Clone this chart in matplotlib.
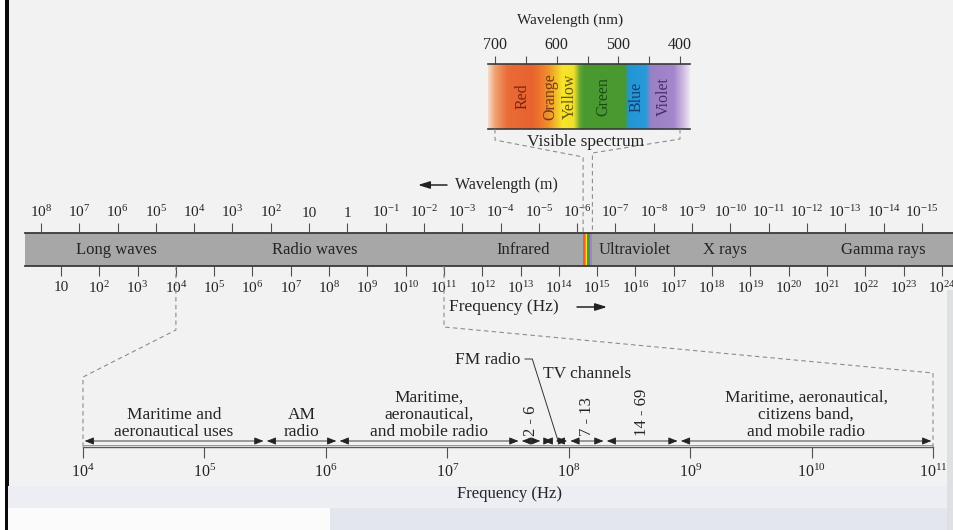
import numpy as np
import matplotlib
matplotlib.use("Agg")
import matplotlib.pyplot as plt
from matplotlib.lines import Line2D
from matplotlib.patches import Rectangle
from matplotlib.ticker import NullLocator
from matplotlib.transforms import IdentityTransform
from matplotlib.colors import to_rgb

plt.rcParams['font.family'] = ['Liberation Serif', 'DejaVu Serif']
plt.rcParams['mathtext.fontset'] = 'custom'
plt.rcParams['mathtext.rm'] = 'Liberation Serif'
plt.rcParams['mathtext.it'] = 'Liberation Serif:italic'
plt.rcParams['mathtext.bf'] = 'Liberation Serif:bold'

W, H, DPI = 954, 530, 100
C_LIGHT = 3.0e8

# ---------------- data ----------------
main_freq_exponents = list(range(1, 25))          # 10^1 .. 10^24 Hz
main_wl_exponents = list(range(8, -16, -1))       # 10^8 .. 10^-15 m
region_names = ["Long waves", "Radio waves", "Infrared", "Ultraviolet", "X rays", "Gamma rays"]
region_log_freq = [2.46, 7.63, 13.06, 15.99, 18.34, 22.46]

visible_ticks_nm = [700, 650, 600, 550, 500, 450, 400]
visible_labels_nm = [700, 600, 500, 400]
color_names = ["Red", "Orange", "Yellow", "Green", "Blue", "Violet"]
color_label_nm = [656, 611, 578, 525, 470, 427]
color_label_colors = ["#7a2414", "#7a3812", "#6a5410", "#1f4a16", "#173e6e", "#4a2c6c"]
color_band_nm = [(700, 627), (627, 600), (600, 563), (563, 482), (482, 450), (450, 400)]
color_band_colors = ["#e9652f", "#f0902c", "#f6e32b", "#4a9a30", "#2196d6", "#a083c9"]
# spectrum gradient anchors (nm, colour)
grad_nm = [384, 395, 410, 447, 455, 482, 490, 555, 562, 572, 590, 600, 612, 625, 640, 680, 700, 712]
grad_col = ["#eee6f3", "#cdb9e2", "#a486cc", "#9a80c6", "#2a9ad8", "#2196d6", "#48992f", "#48992f",
            "#64a432", "#efe02a", "#f7e62b", "#f2c22a", "#f0952c", "#ee7a2c", "#e8622e", "#ea6c38",
            "#f0a070", "#f6e0d2"]

radio_tick_exponents = list(range(4, 12))          # 10^4 .. 10^11 Hz
radio_band_edges = [4.0, 5.5, 6.1, 7.6, 7.78, 7.88, 8.0, 8.3, 8.91, 11.0]   # log10 Hz
radio_band_text = {0: "Maritime and\naeronautical uses",
                   1: "AM\nradio",
                   2: "Maritime,\naeronautical,\nand mobile radio",
                   8: "Maritime, aeronautical,\ncitizens band,\nand mobile radio"}
tv_band_text = {3: "2 - 6", 6: "7 - 13", 7: "14 - 69"}
fm_log_freq = 7.91

# ---------------- figure ----------------
fig = plt.figure(figsize=(W / DPI, H / DPI), dpi=DPI)
fig.patch.set_facecolor('#f2f2f2')


def rect(x0, y0, x1, y1):
    return [x0 / W, 1 - y1 / H, (x1 - x0) / W, (y1 - y0) / H]


def fpx(x, y):
    return (x / W, 1 - y / H)


# scan background
bg = [((0, 0, 5, 530), '#ffffff'), ((5, 0, 8.5, 530), '#0a0a0a'),
      ((8.5, 486, 954, 508), '#eceef3'), ((8.5, 508, 330, 530), '#fbfbfb'),
      ((330, 508, 954, 530), '#e3e6ed'), ((947, 290, 954, 530), '#dfe0e4')]
for (x0, y0, x1, y1), c in bg:
    fig.patches.append(Rectangle((x0 / W, 1 - y1 / H), (x1 - x0) / W, (y1 - y0) / H,
                                 transform=fig.transFigure, color=c, lw=0, zorder=-5))

TXT = '#242424'

# ---------------- main spectrum bar ----------------
PX_DEC, X_10 = 38.3, 61.0
main_l, main_r = 25, 954
ax = fig.add_axes(rect(main_l, 233, main_r, 266))
ax.set_xscale('log')
ax.set_xlim(10 ** (1 + (main_l - X_10) / PX_DEC), 10 ** (1 + (main_r - X_10) / PX_DEC))
ax.set_ylim(0, 1)
ax.set_facecolor('#a7a7a7')
ax.set_yticks([])
for s in ['left', 'right']:
    ax.spines[s].set_visible(False)
for s in ['top', 'bottom']:
    ax.spines[s].set_color('#3a3a3a')
    ax.spines[s].set_linewidth(1.3)
ax.set_xticks([10.0 ** e for e in main_freq_exponents])
ax.set_xticklabels(['10' if e == 1 else '$10^{%d}$' % e for e in main_freq_exponents])
ax.xaxis.set_minor_locator(NullLocator())
ax.tick_params(axis='x', which='major', direction='out', length=7, width=0.8,
               color='#505050', pad=3.5, labelsize=11, labelcolor=TXT)

for (a, b), col in zip(color_band_nm, color_band_colors):
    ax.axvspan(C_LIGHT / (a * 1e-9), C_LIGHT / (b * 1e-9), color=col, lw=0)
for name, lf in zip(region_names, region_log_freq):
    ax.text(10 ** lf, 0.5, name, ha='center', va='center', fontsize=12, color=TXT)

axt = ax.twiny()
axt.set_xscale('log')
axt.set_xlim(ax.get_xlim())
axt.set_xticks([C_LIGHT / 10.0 ** e for e in main_wl_exponents])


def wl_label(e):
    if e == 1:
        return '10'
    if e == 0:
        return '1'
    return '$10^{%d}$' % e


axt.set_xticklabels([wl_label(e) for e in main_wl_exponents])
axt.xaxis.set_minor_locator(NullLocator())
axt.tick_params(axis='x', which='major', direction='out', length=7, width=0.8,
                color='#505050', pad=2.5, labelsize=11, labelcolor=TXT)
for s in axt.spines.values():
    s.set_visible(False)

fig.text(*fpx(455, 185), "Wavelength (m)", ha='left', va='center', fontsize=11.5, color=TXT)
ax.annotate('', xy=(418, H - 185), xytext=(447, H - 185), xycoords='figure pixels',
            arrowprops=dict(arrowstyle='-|>,head_length=0.7,head_width=0.22', color='#222',
                            lw=1.1, shrinkA=0, shrinkB=0, mutation_scale=10))
fig.text(*fpx(449, 307), "Frequency (Hz)", ha='left', va='center', fontsize=12.5, color=TXT)
ax.annotate('', xy=(607, H - 307), xytext=(577, H - 307), xycoords='figure pixels',
            arrowprops=dict(arrowstyle='-|>,head_length=0.7,head_width=0.22', color='#222',
                            lw=1.1, shrinkA=0, shrinkB=0, mutation_scale=10))

# ---------------- visible spectrum inset ----------------
VIS_L, VIS_R = 711.35, 383.8
axv = fig.add_axes(rect(488, 64, 690, 129))
wl_grid = np.linspace(VIS_L, VIS_R, 700)
rgb = np.array([to_rgb(c) for c in grad_col])
img = np.stack([np.interp(wl_grid, grad_nm, rgb[:, k]) for k in range(3)], axis=-1)[None, :, :]
axv.imshow(img, extent=(VIS_L, VIS_R, 0, 1), aspect='auto', interpolation='bilinear')
axv.set_xlim(VIS_L, VIS_R)
axv.set_ylim(0, 1)
axv.set_yticks([])
axv.xaxis.tick_top()
axv.set_xticks(visible_ticks_nm)
axv.set_xticklabels([str(t) if t in visible_labels_nm else '' for t in visible_ticks_nm])
axv.tick_params(axis='x', direction='out', length=6, width=0.8, color='#505050', pad=2,
                labelsize=11.5, labelcolor=TXT)
for s in ['left', 'right']:
    axv.spines[s].set_visible(False)
for s in ['top', 'bottom']:
    axv.spines[s].set_color('#3a3a3a')
    axv.spines[s].set_linewidth(1.2)
for name, nm, c in zip(color_names, color_label_nm, color_label_colors):
    axv.text(nm, 0.5, name, rotation=90, ha='center', va='center', fontsize=11.5, color=c)
fig.text(*fpx(570, 20), "Wavelength (nm)", ha='center', va='center', fontsize=11, color=TXT)
fig.text(*fpx(586, 142), "Visible spectrum", ha='center', va='center', fontsize=12.5, color=TXT)

# ---------------- radio band expansion ----------------
axl = fig.add_axes(rect(83, 350, 933, 447))
axl.set_xscale('log')
axl.set_xlim(10.0 ** radio_tick_exponents[0], 10.0 ** radio_tick_exponents[-1])
axl.set_ylim(0, 97)
axl.patch.set_visible(False)
for s in ['left', 'right', 'top']:
    axl.spines[s].set_visible(False)
axl.spines['bottom'].set_color('#5a5a5a')
axl.spines['bottom'].set_linewidth(1.0)
axl.axhline(2.0, color='#8a8a8a', lw=0.6)
axl.set_yticks([])
axl.set_xticks([10.0 ** e for e in radio_tick_exponents])
axl.set_xticklabels(['$10^{%d}$' % e for e in radio_tick_exponents])
axl.xaxis.set_minor_locator(NullLocator())
axl.tick_params(axis='x', direction='out', length=8, width=0.8, color='#505050', pad=4,
                labelsize=11.5, labelcolor=TXT)

ARROW_Y = 6
for a, b in zip(radio_band_edges[:-1], radio_band_edges[1:]):
    axl.annotate('', xy=(10 ** b, ARROW_Y), xytext=(10 ** a, ARROW_Y),
                 arrowprops=dict(arrowstyle='<|-|>,head_length=0.5,head_width=0.2',
                                 color='#222', lw=0.6, shrinkA=1.2, shrinkB=1.2,
                                 mutation_scale=11))
for i, t in radio_band_text.items():
    xc = 10 ** ((radio_band_edges[i] + radio_band_edges[i + 1]) / 2)
    axl.text(xc, 11, t, ha='center', va='baseline', fontsize=12.5, color=TXT,
             linespacing=1.08, multialignment='center')
for i, t in tv_band_text.items():
    xc = 10 ** ((radio_band_edges[i] + radio_band_edges[i + 1]) / 2)
    axl.text(xc, 11, t, ha='center', va='bottom', rotation=90, fontsize=12, color=TXT)
axl.text(10 ** 8.15, 73, "TV channels", ha='center', va='center', fontsize=12.5, color=TXT)
axl.text(10 ** 7.6, 87, "FM radio", ha='right', va='center', fontsize=12.5, color=TXT)
axl.plot([10 ** 7.64, 10 ** 7.70, 10 ** fm_log_freq], [88, 88, 7], color='#333', lw=0.7)
fig.text(*fpx(510, 494), "Frequency (Hz)", ha='center', va='center', fontsize=12, color=TXT)

# ---------------- dashed connectors ----------------
dash = dict(color='#8c8c8c', lw=0.8, linestyle=(0, (4, 3)), transform=IdentityTransform())


def poly(pts):
    xs, ys = zip(*pts)
    fig.add_artist(Line2D(xs, ys, **dash))


for fexp, y_el1, y_el2 in [(radio_tick_exponents[0], 330, 377), (radio_tick_exponents[-1], 327, 373)]:
    p0 = ax.transData.transform((10.0 ** fexp, 0))
    p3 = axl.transData.transform((10.0 ** fexp, 0))
    poly([p0, (p0[0], H - y_el1), (p3[0], H - y_el2), p3])

for nm, y_el1, y_el2 in [(700, 140, 157), (400, 139, 153)]:
    v0 = axv.transData.transform((nm, 0))
    m = ax.transData.transform((C_LIGHT / (nm * 1e-9), 1))
    poly([v0, (v0[0], H - y_el1), (m[0], H - y_el2), m])

fig.savefig('out.png', dpi=DPI, facecolor=fig.get_facecolor())
